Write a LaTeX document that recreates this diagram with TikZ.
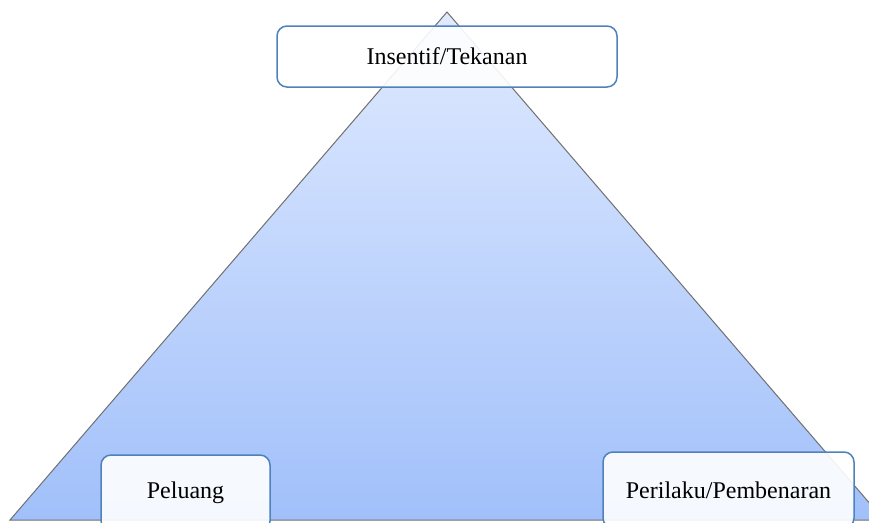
\documentclass[tikz,border=0pt]{standalone}
\usepackage{fontspec}
\setmainfont{Liberation Serif}
\definecolor{garis}{RGB}{112,112,112}
\definecolor{biru}{RGB}{79,129,189}
\definecolor{atas}{RGB}{224,234,255}
\definecolor{bawah}{RGB}{161,192,250}

\begin{document}
\begin{tikzpicture}[x=1pt,y=-1pt,
    kotak/.style={draw=biru,line width=1.5pt,rounded corners=10pt,fill=white,fill opacity=0.9,text opacity=1,
      inner sep=0pt,font=\fontsize{24}{28}\selectfont}]
      \clip (0,0) rectangle (869,522);
      \useasboundingbox (0,0) rectangle (869,522);
      \coordinate (puncak) at (447,12);
      \coordinate (kiri) at (10,520);
      \coordinate (kanan) at (884,520);

      \shade[top color=atas,bottom color=bawah] (puncak) -- (kiri) -- (kanan) -- cycle;
      \draw[garis,line width=1pt] (puncak) -- (kiri) -- (kanan) -- cycle;

      \node[kotak,minimum width=340pt,minimum height=61pt] (tekanan) at (447,56.5) {Insentif/Tekanan};
      \node[kotak,minimum width=169pt,minimum height=76pt] (peluang) at (185.5,493) {Peluang};
      \node[kotak,minimum width=251pt,minimum height=76pt] (pembenaran) at (728.5,490) {Perilaku/Pembenaran};
    \end{tikzpicture}
\end{document}
